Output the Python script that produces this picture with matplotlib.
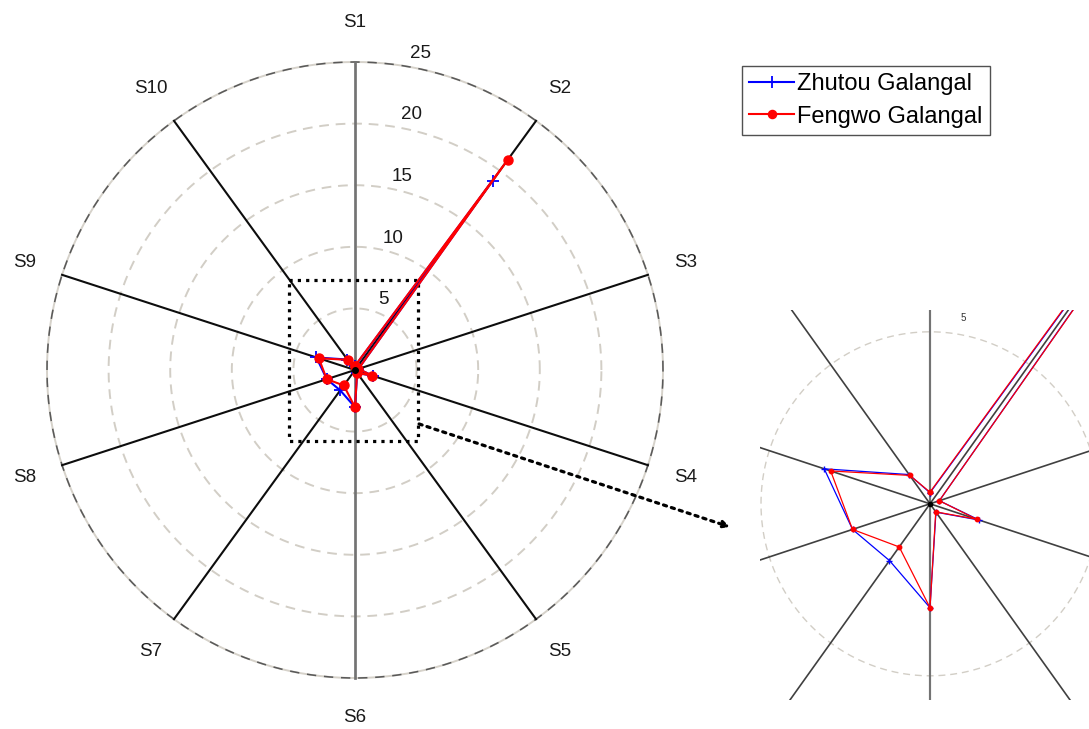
import numpy as np
import matplotlib
matplotlib.use("Agg")
import matplotlib.pyplot as plt

plt.rcParams['font.family'] = ['Liberation Sans', 'DejaVu Sans']

# ========= data =========
categories = ["S1", "S2", "S3", "S4", "S5", "S6", "S7", "S8", "S9", "S10"]
rings = [5, 10, 15, 20, 25]
zhutou = [0.32, 19.0, 0.29, 1.53, 0.30, 3.02, 2.04, 2.41, 3.29, 1.05]
fengwo = [0.34, 21.1, 0.29, 1.45, 0.29, 3.02, 1.55, 2.41, 3.09, 1.02]
series_names = ["Zhutou Galangal", "Fengwo Galangal"]

W, H = 1089, 729
n = len(categories)
theta = np.deg2rad(90 - 360 / n * np.arange(n))   # S1 on top, clockwise
rmax = rings[-1]


def xy(vals):
    v = np.asarray(vals, dtype=float)
    v = np.append(v, v[0])
    t = np.append(theta, theta[0])
    return v * np.cos(t), v * np.sin(t)


def draw_web(ax, lw_spoke, lw_ring, ring_list, spoke_col):
    phi = np.linspace(0, 2 * np.pi, 400)
    for r in ring_list:
        if r == rmax:
            ax.plot(r * np.cos(phi), r * np.sin(phi), color="#d6d2ca", lw=lw_ring, zorder=1)
            ax.plot(r * np.cos(phi), r * np.sin(phi), color="0.35", lw=lw_ring * 0.8,
                    dashes=(6, 5), zorder=1)
        else:
            ax.plot(r * np.cos(phi), r * np.sin(phi), color="#d2cec6", lw=lw_ring,
                    dashes=(5, 3.5), zorder=1)
    for t in theta:
        vertical = abs(np.cos(t)) < 1e-6
        ax.plot([0, rmax * np.cos(t)], [0, rmax * np.sin(t)],
                color="0.45" if vertical else spoke_col,
                lw=lw_spoke * (1.3 if vertical else 1.0), zorder=2)


fig = plt.figure(figsize=(W / 100, H / 100), dpi=100)

# ========= main radar =========
cx, cy, s = 355, 370, 12.32          # centre in pixels, pixels per unit
ax = fig.add_axes([0, 0, 1, 1])
ax.set_xlim(-cx / s, (W - cx) / s)
ax.set_ylim(-(H - cy) / s, cy / s)
ax.axis("off")

draw_web(ax, 1.5, 1.4, rings, "0.05")

for v in rings:
    ax.text(1.6 + 0.15 * v, v + 0.7, str(v), fontsize=13.5,
            ha="center", va="center", color="0.1")
for t, lab in zip(theta, categories):
    ax.text(28.2 * np.cos(t), 28.2 * np.sin(t), lab, fontsize=13.5,
            ha="center", va="center", color="0.1")

x1, y1 = xy(zhutou)
x2, y2 = xy(fengwo)
ax.plot(x1, y1, color="blue", lw=1.5, marker="+", ms=9, mew=1.3,
        label=series_names[0], zorder=4)
ax.plot(x2, y2, color="red", lw=1.5, marker="o", ms=6.5,
        label=series_names[1], zorder=5)
ax.plot(0, 0, "o", color="black", ms=4, zorder=6)

# dotted zoom box
bx0, bx1, by0, by1 = -5.36, 5.11, -5.76, 7.3
ax.plot([bx0, bx1, bx1, bx0, bx0], [by1, by1, by0, by0, by1], color="black",
        lw=2.3, linestyle=(0, (1, 1.6)), zorder=3)
ax.annotate("", xy=(730 / W, 1 - 527 / H), xycoords="figure fraction",
            xytext=(5.2, -4.38), textcoords="data",
            arrowprops=dict(arrowstyle="->", lw=2.3, linestyle=(0, (1, 1.6)),
                            color="black", shrinkA=0, shrinkB=0,
                            mutation_scale=10))

leg = ax.legend(loc="upper left", bbox_to_anchor=(742 / W, 1 - 66 / H),
                bbox_transform=fig.transFigure, fontsize=17, frameon=True,
                fancybox=False, borderaxespad=0, borderpad=0.3,
                labelspacing=0.45, handlelength=1.9, handletextpad=0.15,
                markerscale=0.9)
leg.get_frame().set_edgecolor("0.15")
leg.get_frame().set_linewidth(1.0)

# ========= inset (zoomed centre) =========
ix0, ix1, iy0, iy1 = 760, 1089, 310, 700
icx, icy, sx, sy = 930, 503.8, 33.8, 34.4
ins = fig.add_axes([ix0 / W, 1 - iy1 / H, (ix1 - ix0) / W, (iy1 - iy0) / H])
ins.set_xlim((ix0 - icx) / sx, (ix1 - icx) / sx)
ins.set_ylim((icy - iy1) / sy, (icy - iy0) / sy)
ins.axis("off")
draw_web(ins, 1.2, 1.0, rings, "0.25")
ins.text(0.98, 5.4, str(rings[0]), fontsize=7, ha="center", va="center", color="0.2")
ins.plot(x1, y1, color="blue", lw=0.9, marker="+", ms=5, mew=1.0, zorder=4)
ins.plot(x2, y2, color="red", lw=0.9, marker="o", ms=3.2, zorder=5)
ins.plot(0, 0, "o", color="black", ms=3, zorder=6)

fig.savefig("out.png", dpi=100)
